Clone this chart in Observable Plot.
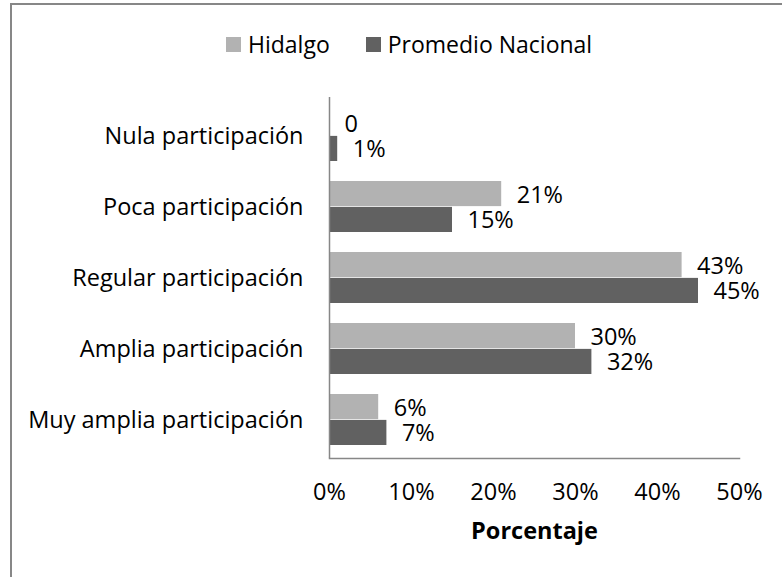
<!DOCTYPE html>
<html>
<head>
<meta charset="utf-8">
<script src="https://cdn.jsdelivr.net/npm/d3@7"></script>
<script src="https://cdn.jsdelivr.net/npm/@observablehq/plot@0.6"></script>
<style>
  html, body { margin: 0; padding: 0; background: #fff; }
  #wrap { position: relative; width: 782px; height: 577px; overflow: hidden; font-family: "Open Sans", sans-serif; }
  #border { position: absolute; left: 10px; top: 3px; width: 900px; height: 700px; border: 2px solid #878787; box-sizing: border-box; }
  #legend { position: absolute; left: 226px; top: 28px; display: flex; align-items: center; font-size: 23px; color: #000; white-space: nowrap; }
  #legend .item { display: flex; align-items: center; margin-right: 36px; }
  #legend .sw { width: 15px; height: 15px; margin-right: 7px; }
  #chart { position: absolute; left: 0; top: 0; }
</style>
</head>
<body>
<div id="wrap">
  <div id="border"></div>
  <div id="chart"></div>
  <div id="legend"></div>
</div>
<script>
const categories = ["Nula participación", "Poca participación", "Regular participación", "Amplia participación", "Muy amplia participación"];
const seriesNames = ["Hidalgo", "Promedio Nacional"];
const seriesColors = ["#b2b2b2", "#616161"];
const hidalgo = [0, 21, 43, 30, 6];
const nacional = [1, 15, 45, 32, 7];
const xTicks = [0, 10, 20, 30, 40, 50];
const axisTitle = "Porcentaje";

const W = 782, H = 577;
const mTop = 97, mBottom = 119, mLeft = 329, mRight = 43;
const padIn = 0.28, padOut = 0.15;
const step = (H - mTop - mBottom) / (categories.length - padIn + 2 * padOut);
const half = step * (1 - padIn) / 2;

const hidData = categories.map((c, i) => ({cat: c, value: hidalgo[i]}));
const natData = categories.map((c, i) => ({cat: c, value: nacional[i]}));
const fmt = v => v === 0 ? "0" : v + "%";

const plot = Plot.plot({
  width: W,
  height: H,
  marginTop: mTop,
  marginBottom: mBottom,
  marginLeft: mLeft,
  marginRight: mRight,
  style: {fontFamily: "Open Sans, sans-serif", fontSize: "23.5px", color: "#000", background: "transparent"},
  x: {domain: [0, 50]},
  y: {domain: categories, paddingInner: padIn, paddingOuter: padOut},
  marks: [
    Plot.barX(hidData, {x: "value", y: "cat", fill: seriesColors[0], insetBottom: half}),
    Plot.barX(natData, {x: "value", y: "cat", fill: seriesColors[1], insetTop: half}),
    Plot.ruleX([0], {stroke: "#878787", strokeWidth: 1.5}),
    Plot.frame({anchor: "bottom", stroke: "#878787", strokeWidth: 1.5}),
    Plot.text(hidData, {x: "value", y: "cat", text: d => fmt(d.value), textAnchor: "start", dx: 15, dy: -half / 2 + 1, fill: "#000"}),
    Plot.text(natData, {x: "value", y: "cat", text: d => fmt(d.value), textAnchor: "start", dx: 15, dy: half / 2 + 1, fill: "#000"}),
    Plot.axisX({ticks: xTicks, tickFormat: d => d + "%", tickSize: 0, tickPadding: 25, label: null}),
    Plot.axisY({tickSize: 0, tickPadding: 26, label: null}),
    Plot.text([axisTitle], {frameAnchor: "bottom", dy: 80, fontWeight: "bold", fill: "#000"})
  ]
});
document.getElementById("chart").appendChild(plot);

const legend = document.getElementById("legend");
seriesNames.forEach((name, i) => {
  const item = document.createElement("div");
  item.className = "item";
  const sw = document.createElement("div");
  sw.className = "sw";
  sw.style.background = seriesColors[i];
  const label = document.createElement("span");
  label.textContent = name;
  item.appendChild(sw);
  item.appendChild(label);
  legend.appendChild(item);
});
</script>
</body>
</html>
